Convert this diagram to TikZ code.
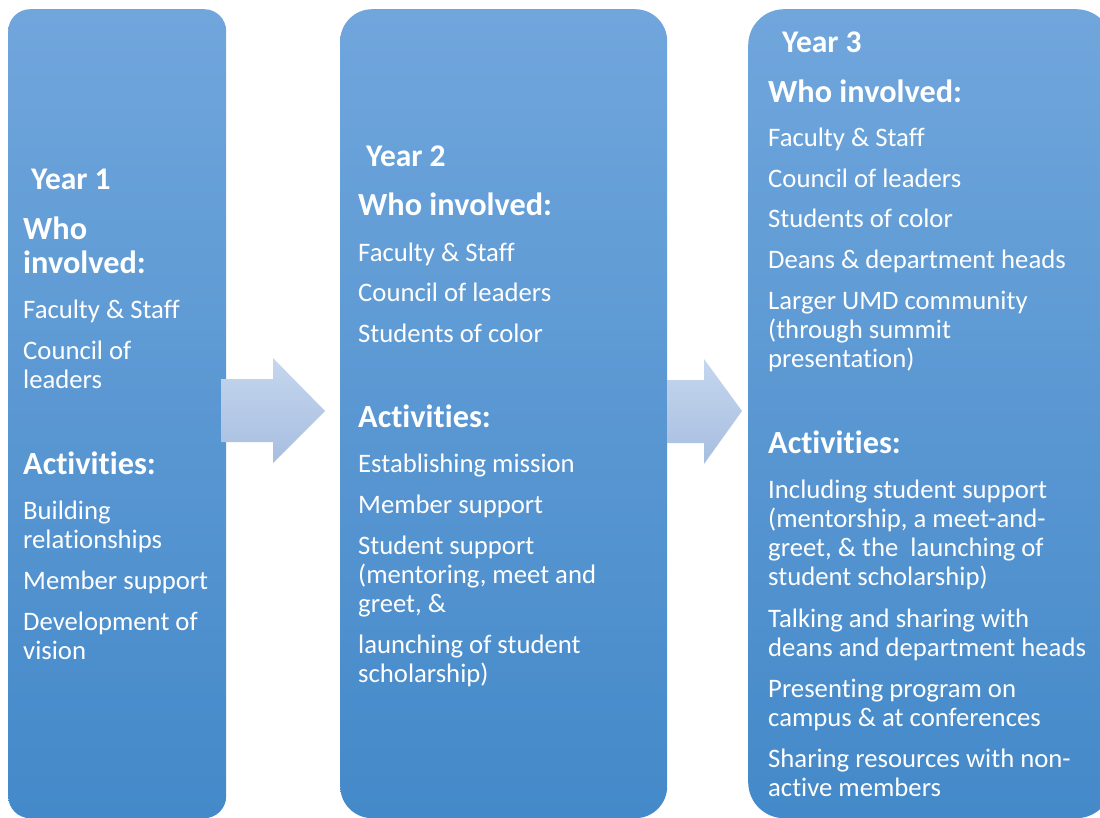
\documentclass[tikz,border=0pt]{standalone}
\usepackage{fontspec}
\setmainfont{Carlito}[Ligatures=NoCommon]
\usetikzlibrary{shadings}
\definecolor{boxtop}{HTML}{70A6DC}
\definecolor{boxbot}{HTML}{4489C9}
\definecolor{arrtop}{HTML}{C5D6EE}
\definecolor{arrbot}{HTML}{A7BEE0}
\tikzset{
  yearbox/.style={draw=none, top color=boxtop, bottom color=boxbot, anchor=north west,
    minimum height=809pt, inner sep=0pt},
  blockarrow/.style={draw=none, top color=arrtop, bottom color=arrbot},
  txt/.style={anchor=base west, inner sep=0pt, text=white, font=\fontsize{26.7}{29}\selectfont},
  head/.style={anchor=base west, inner sep=0pt, text=white, font=\fontsize{32.3}{34}\selectfont\bfseries},
  yr/.style={anchor=base west, inner sep=0pt, text=white, font=\fontsize{31.5}{33}\selectfont\bfseries},
}
\begin{document}
\begin{tikzpicture}[x=1pt, y=-1pt]
\useasboundingbox (0,0) rectangle (1100,818);
\clip (0,0) rectangle (1100,818);

% the three year panels
\node[yearbox, minimum width=218pt, rounded corners=22pt] (y1) at (8,9) {};
\node[yearbox, minimum width=327pt, rounded corners=32pt] (y2) at (340,9) {};
\node[yearbox, minimum width=364pt, rounded corners=36pt] (y3) at (748,9) {};

% block arrows between the panels
\path[blockarrow] (221,379) -- (273,379) -- (273,358) -- (325,411) -- (273,463) -- (273,442) -- (221,442) -- cycle;
\path[blockarrow] (667,380) -- (704,380) -- (704,359) -- (742,411) -- (704,464) -- (704,443) -- (667,443) -- cycle;

% Year 1
\node[yr]   (a0) at (31,190) {Year 1};
\node[head] (a1) at (23,240) {Who};
\node[head] (a2) at (23,273.3) {involved:};
\node[txt]  (a3) at (23,319) {Faculty \& Staff};
\node[txt]  (a4) at (23,359) {Council of};
\node[txt]  (a5) at (23,388) {leaders};
\node[head] (a6) at (23,474.5) {Activities:};
\node[txt]  (a7) at (23,519) {Building};
\node[txt]  (a8) at (23,548) {relationships};
\node[txt]  (a9) at (23,589) {Member support};
\node[txt]  (a10) at (23,630) {Development of};
\node[txt]  (a11) at (23,659) {vision};

% Year 2
\node[yr]   (b0) at (366,167) {Year 2};
\node[head] (b1) at (358,216) {Who involved:};
\node[txt]  (b2) at (358,261.5) {Faculty \& Staff};
\node[txt]  (b3) at (358,301.5) {Council of leaders};
\node[txt]  (b4) at (358,342) {Students of color};
\node[head] (b5) at (358,427.5) {Activities:};
\node[txt]  (b6) at (358,472) {Establishing mission};
\node[txt]  (b7) at (358,513) {Member support};
\node[txt]  (b8) at (358,554) {Student support};
\node[txt]  (b9) at (358,583) {(mentoring, meet and};
\node[txt]  (b10) at (358,612) {greet, \&};
\node[txt]  (b11) at (358,653) {launching of student};
\node[txt]  (b12) at (358,682) {scholarship)};

% Year 3
\node[yr]   (c0) at (782,53) {Year 3};
\node[head] (c1) at (768,102.5) {Who involved:};
\node[txt]  (c2) at (768,147) {Faculty \& Staff};
\node[txt]  (c3) at (768,188) {Council of leaders};
\node[txt]  (c4) at (768,228) {Students of color};
\node[txt]  (c5) at (768,269) {Deans \& department heads};
\node[txt]  (c6) at (768,309.3) {Larger UMD community};
\node[txt]  (c7) at (768,338.3) {(through summit};
\node[txt]  (c8) at (768,367.3) {presentation)};
\node[head] (c9) at (768,453.5) {Activities:};
\node[txt]  (c10) at (768,498) {Including student support};
\node[txt]  (c11) at (768,527) {(mentorship, a meet-and-};
\node[txt]  (c12) at (768,556) {greet, \& the\ \ launching of};
\node[txt]  (c13) at (768,585) {student scholarship)};
\node[txt]  (c14) at (768,627) {Talking and sharing with};
\node[txt]  (c15) at (768,656) {deans and department heads};
\node[txt]  (c16) at (768,697) {Presenting program on};
\node[txt]  (c17) at (768,726) {campus \& at conferences};
\node[txt]  (c18) at (768,767) {Sharing resources with non-};
\node[txt]  (c19) at (768,796) {active members};
\end{tikzpicture}
\end{document}
